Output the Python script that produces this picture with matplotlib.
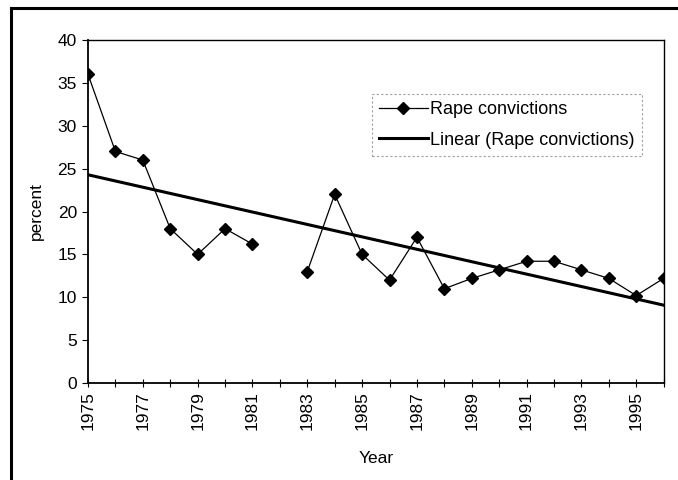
import numpy as np
import matplotlib.pyplot as plt

plt.rcParams['font.family'] = ['Liberation Sans', 'DejaVu Sans']

years = [1975, 1976, 1977, 1978, 1979, 1980, 1981, 1982, 1983, 1984, 1985,
         1986, 1987, 1988, 1989, 1990, 1991, 1992, 1993, 1994, 1995, 1996]
convictions = [36, 27, 26, 18, 15, 18, 16.2, np.nan, 13, 22, 15,
               12, 17, 11, 12.2, 13.2, 14.2, 14.2, 13.2, 12.2, 10.2, 12.2]
yticks = [0, 5, 10, 15, 20, 25, 30, 35, 40]

x = np.array(years, dtype=float)
y = np.array(convictions, dtype=float)
ok = ~np.isnan(y)
slope, icept = np.polyfit(x[ok], y[ok], 1)

fig = plt.figure(figsize=(6.78, 4.8), dpi=100)
ax = fig.add_axes([0.1298, 0.202, 0.849, 0.7147])

ax.plot(x, y, color='black', lw=0.9, marker='D', markersize=6.5,
        label='Rape convictions')
ax.plot(x, slope * x + icept, color='black', lw=2.2,
        label='Linear (Rape convictions)')

ax.set_xlim(1975, 1996)
ax.set_ylim(0, 40)
ax.set_yticks(yticks)
ax.set_xticks(years)
ax.set_xticklabels([str(yr) if (yr - 1975) % 2 == 0 else '' for yr in years],
                   rotation=90)
ax.tick_params(axis='x', direction='inout', length=6, width=0.8, labelsize=12.5, pad=3)
ax.tick_params(axis='y', direction='out', length=4, width=0.8, labelsize=12.5, pad=4)
for s in ax.spines.values():
    s.set_linewidth(1.0)
ax.spines['left'].set_linewidth(1.3)
ax.spines['bottom'].set_linewidth(1.3)

ax.set_xlabel('Year', fontsize=12.5, labelpad=15)
ax.set_ylabel('percent', fontsize=12.5, labelpad=10)

leg = ax.legend(loc='upper left', bbox_to_anchor=(0.493, 0.843), fontsize=13,
                frameon=True, fancybox=False, handlelength=2.7,
                handletextpad=0.15, borderpad=0.4, labelspacing=0.75,
                borderaxespad=0)
leg.get_frame().set_edgecolor('#888888')
leg.get_frame().set_linewidth(0.8)
leg.get_frame().set_linestyle((0, (2, 2)))

# outer frame (top and left only)
fig.add_artist(plt.Line2D([11 / 678, 11 / 678], [0, 1 - 8 / 480], color='black',
                          lw=2.2, transform=fig.transFigure))
fig.add_artist(plt.Line2D([11 / 678, 1], [1 - 8 / 480, 1 - 8 / 480], color='black',
                          lw=2.2, transform=fig.transFigure))

fig.savefig('out.png', dpi=100)
